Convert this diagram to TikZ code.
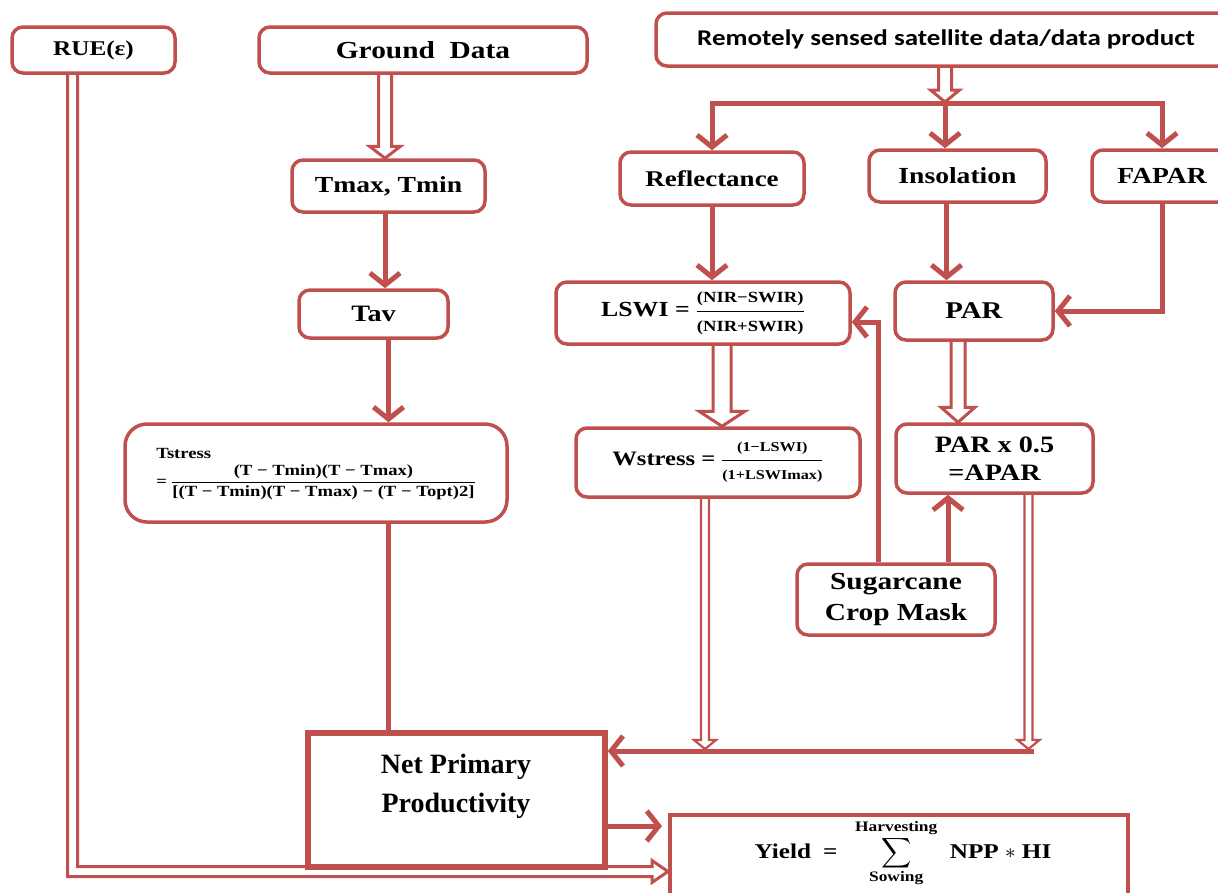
\documentclass[tikz,border=0pt]{standalone}
\usepackage{amsmath}
\usepackage{fontspec}
\usepackage{unicode-math}
\setmainfont{Liberation Serif}[FakeStretch=1.2]
\newfontfamily\tnr{Liberation Serif}
\newfontfamily\calib{Carlito}[FakeStretch=1.2]
\usetikzlibrary{arrows.meta,calc}
\definecolor{rd}{HTML}{C0504D}
\pgfdeclarelayer{bg}
\pgfsetlayers{bg,main}
\newcommand\fs[2]{\fontsize{#1}{#2}\selectfont}
\newcommand\beq{\mathrel{\mbox{\bfseries =}}}
\tikzset{
 box/.style={draw=rd, line width=3.5pt, rounded corners=11pt, fill=white, align=center, font=\bfseries, inner sep=0pt, text=black},
 sqbox/.style={draw=rd, line width=4pt, fill=white, inner sep=0pt},
 txt/.style={align=center, font=\bfseries, inner sep=0pt},
 arr/.style={draw=rd, line width=5pt, -{Straight Barb[length=12pt,width=30pt]}},
 ln/.style={draw=rd, line width=5pt},
 hol/.style={draw=rd, line width=3pt, fill=white},
 thinhol/.style={draw=rd, line width=2.2pt, fill=white},
}
% hollow downward arrow: [style]{from}{tip}{shaft half}{head half}{head length}
\newcommand\hdown[6][hol]{\draw[#1] let \p1=(#2), \p2=(#3) in
 (\x2-#4,\y1) -- (\x2-#4,\y2+#6) -- (\x2-#5,\y2+#6) -- (\x2,\y2) -- (\x2+#5,\y2+#6) -- (\x2+#4,\y2+#6) -- (\x2+#4,\y1);}
\begin{document}
\begin{tikzpicture}[x=1pt,y=-1pt]
\useasboundingbox (0,0) rectangle (1218,892);
% boxes
\node[box, minimum width=163, minimum height=46, font={\bfseries\fs{21}{24}}] (rue) at (93.5,50) {RUE(ε)};
\node[box, minimum width=328, minimum height=46, font={\bfseries\fs{24.5}{28}}] (ground) at (423,50) {Ground\ \ Data};
\node[box, minimum width=580, minimum height=53, font={\calib\bfseries\fs{22.5}{26}}] (remote) at (946,39.5) {Remotely sensed satellite data/data product};
\node[box, minimum width=193, minimum height=52, font={\bfseries\fs{23}{26}}] (tmax) at (388.5,186) {Tmax, Tmin};
\node[box, minimum width=149, minimum height=48, font={\bfseries\fs{23.5}{26}}] (tav) at (373.5,314) {Tav};
\node[box, minimum width=382, minimum height=98, rounded corners=22pt, font={\bfseries\fs{15.5}{18}}] (tstress) at (316,473)
 {\begin{tabular}{@{}l@{}}Tstress\\[1pt]
 $\beq\dfrac{\mbox{\fs{15.5}{18}\bfseries (T − Tmin)(T − Tmax)}}{\mbox{\fs{15.5}{18}\bfseries [(T − Tmin)(T − Tmax) − (T − Topt)2]}}$\end{tabular}};
\node[box, minimum width=184, minimum height=53, font={\bfseries\fs{22.5}{26}}] (refl) at (712,178.5) {Reflectance};
\node[box, minimum width=177, minimum height=52, font={\bfseries\fs{23}{26}}] (insol) at (957.5,176) {Insolation};
\node[box, minimum width=140, minimum height=52, font={\bfseries\fs{23}{26}}] (fapar) at (1162,176) {FAPAR};
\node[box, minimum width=294, minimum height=62, font={\bfseries\fs{21.5}{24}}] (lswi) at (703,313)
 {LSWI $\beq\dfrac{\mbox{\fs{15.5}{17}\bfseries (NIR−SWIR)}}{\mbox{\fs{15.5}{17}\bfseries (NIR+SWIR)}}$};
\node[box, minimum width=158, minimum height=58, font={\bfseries\fs{24}{26}}] (par) at (974,311) {PAR};
\node[box, minimum width=284, minimum height=69, font={\bfseries\fs{20.5}{24}}] (wstress) at (718,462.5)
 {Wstress $\beq\dfrac{\mbox{\fs{13.5}{15}\bfseries (1−LSWI)}}{\mbox{\fs{13.5}{15}\bfseries (1+LSWImax)}}$};
\node[box, minimum width=197, minimum height=69, font={\bfseries\fs{23.5}{28}}] (apar) at (994.5,458.5) {PAR x 0.5\\=APAR};
\node[box, minimum width=198, minimum height=71, font={\bfseries\fs{24.5}{31}}] (sugar) at (896,599.5) {Sugarcane\\Crop Mask};
\node[sqbox, line width=5.5pt, minimum width=297, minimum height=134] (npp) at (456.5,800) {};
\node[txt, font={\tnr\bfseries\fs{28}{39}}] (npptxt) at (456,786) {Net Primary\\Productivity};
\node[sqbox, minimum width=458, minimum height=113] (yield) at (899,871.5) {};
\node[txt, font={\bfseries\fs{21}{24}}] (yieldtxt) at (903,853) {Yield $\;\beq\;\;\displaystyle\sum_{\mbox{\fs{14.5}{16}\bfseries Sowing}}^{\mbox{\fs{14.5}{16}\bfseries Harvesting}}$\ \ NPP $*$ HI};
% connectors
\begin{pgfonlayer}{bg}
\coordinate (busY) at (945,103);
\draw[arr] (busY) -| (refl.north);
\draw[arr] (busY) -| (fapar.north);
\draw[arr] (busY) -- (busY |- insol.north);
\hdown{remote.south}{$(busY)+(0,-1)$}{6.5pt}{14.5pt}{12pt}
\hdown{ground.south}{$(tmax.north)+(-3.5,0)$}{6.5pt}{15.5pt}{12pt}
\draw[arr] ($(tmax.south)+(-3.5,0)$) -- ($(tmax.south |- tav.north)+(-3.5,0)$);
\draw[arr] (tav.south -| tmax.south) -- (tmax.south |- tstress.north);
\draw[ln] (tstress.south -| tmax.south) -- (tmax.south |- npp.north);
\draw[arr] (refl.south) -- (refl.south |- lswi.north);
\draw[arr] ($(insol.south)+(-11,0)$) -- ($(insol.south |- par.north)+(-11,0)$);
\draw[arr] (fapar.south) |- (par.east);
\hdown{lswi.south}{$(wstress.north)+(4,0)$}{9pt}{23pt}{15pt}
\hdown{par.south}{$(apar.north)+(-36.5,0)$}{7pt}{17pt}{15pt}
\draw[arr] ($(sugar.north)+(-18,0)$) |- ($(lswi.east)+(0,9)$);
\draw[arr] ($(sugar.north)+(52,0)$) -- ($(sugar.north |- apar.south)+(52,0)$);
\coordinate (busB) at (1034,751);
\draw[arr] (busB) -- (busB -| npp.east);
\hdown[thinhol]{wstress.south}{$(busB -| wstress.south)+(-13,-2)$}{4pt}{11pt}{9pt}
\hdown[thinhol]{apar.south}{$(busB -| apar.south)+(34,-2)$}{4pt}{11pt}{9pt}
\coordinate (ny) at ($(npp.east)+(0,26)$);
\draw[arr, shorten >=6pt] (ny) -- (ny -| yield.west);
\draw[hol] let \p1=($(rue.south)+(-21,0)$), \p2=(yield.west) in
 (\x1-5pt,\y1) -- (\x1-5pt,\y2-5pt) -- (\x2-16pt,\y2-5pt) -- (\x2-16pt,\y2-11pt) -- (\x2,\y2)
 -- (\x2-16pt,\y2+11pt) -- (\x2-16pt,\y2+5pt) -- (\x1+5pt,\y2+5pt) -- (\x1+5pt,\y1);
\end{pgfonlayer}
\end{tikzpicture}
\end{document}
